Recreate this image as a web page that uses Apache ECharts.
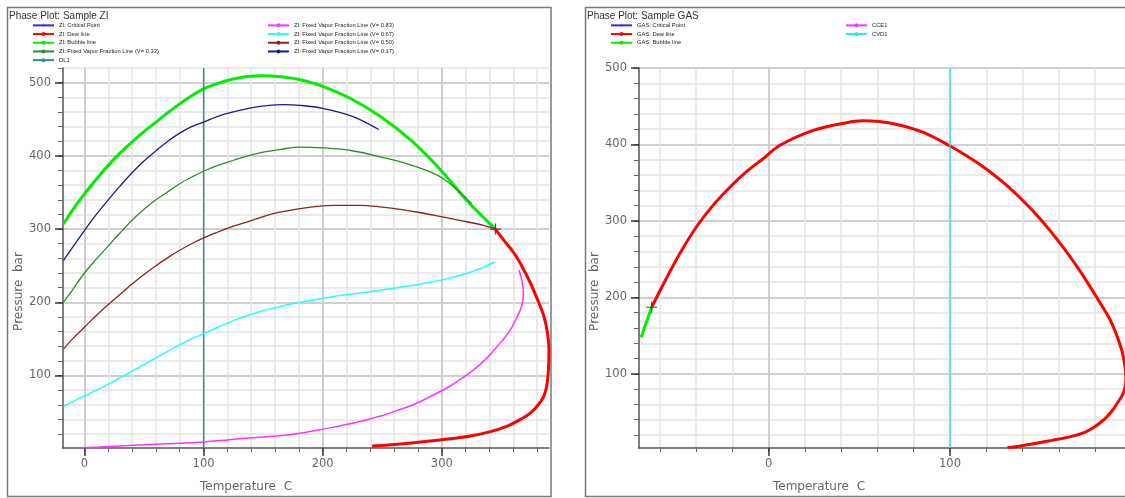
<!DOCTYPE html>
<html><head><meta charset="utf-8">
<script src="https://cdn.jsdelivr.net/npm/echarts@6/dist/echarts.min.js"></script>
<style>html,body{margin:0;padding:0;background:#fff}#c{width:1125px;height:498px}</style>
</head><body><div id="c"></div>
<script>
// ---------- Sample ZI (left panel) : [Temperature C, Pressure bar] ----------
const ziCritical = [[345, 300]];
const ziBubble = [[-17.6,307],[-10,326],[0,348],[10,368],[20,387],[30,404],[40,419],[50,433],[60,446],[70,459],[80,471],[90,482],[100,491.5],[112,499],[125,505],[137,508.5],[150,509.5],[165,508],[181,504],[200,495],[225,477],[250,452],[275,420],[300,379],[321,339],[345,300]];
const ziDew = [[345,300],[352,285],[360.7,267],[367,250],[374.5,226],[380,205],[385.7,181],[388.5,160],[390,135],[389.4,104],[388,85],[385.7,72],[381,60],[374.5,49],[365,39],[355,31],[340,23],[324,17.4],[307,13.5],[290,10.6],[270,7],[255,5],[241.5,3.8]];
const ziV017 = [[-17.6,257],[-10,275],[0,298],[10,320],[20,340],[30,359],[40,377],[50,393],[60,407],[70,420],[80,431],[90,440],[100,446],[112,454],[125,460],[140,465.5],[155,469],[167,470],[181,469],[200,465],[225,454],[247,436]];
const ziV033 = [[-17.6,200],[-10,217],[0,240],[10,259],[20,277],[30,295],[40,312],[50,327],[60,340],[70,351],[80,362],[90,371],[100,379],[112,387],[125,394],[137,400],[150,405],[165,409],[181,412],[200,411],[225,407],[250,398],[275,387],[300,370],[325,335]];
const ziV050 = [[-17.6,136],[-10,150],[0,166],[10,182],[20,197],[30,211],[40,225],[50,238],[60,250],[70,261],[80,271],[90,280],[100,288],[112,296],[125,304],[137,310],[150,317],[164,323],[181,328],[195,331],[209,332.5],[232,332.5],[250,330],[265,327],[280,323],[293,319],[310,313.5],[321,310],[335,305],[345,300]];
const ziV067 = [[-17.6,58],[-10,64],[0,72],[10,80],[20,88],[30,97],[40,106],[50,115],[60,124],[70,133],[80,142],[90,150],[100,157],[112,166],[125,175],[137,182],[150,188.5],[164,194],[181,200],[206,207],[230,212.5],[248,216.5],[265,220.5],[282,225],[304,232],[324,241],[335,248],[344,255]];
const ziV083 = [[-3.6,1.4],[10,2],[20,3],[40,4.8],[60,6],[80,7.5],[100,9.3],[120,12],[140,15],[164,17.6],[181,21],[192.5,24.5],[206,28.5],[220.5,33.3],[235,38.5],[248.5,44.6],[262,52],[276.6,60.5],[290,71],[304.6,83.3],[316,95],[327,108],[336,121],[344,135],[351,148],[357.7,162.6],[362,176],[366,190],[368,202],[368.5,212.5],[367.5,228],[364.8,244]];
const ziDL1 = [[100,1],[100,520]];

// ---------- Sample GAS (right panel) ----------
const gasCritical = [[-64.5,187]];
const gasBubble = [[-70.3,148],[-67.5,167],[-64.5,187]];
const gasDew = [[-64.5,187],[-56.6,224],[-48.9,257.8],[-39.6,293],[-30.8,320],[-21.4,344],[-12.1,364.7],[-3.3,381],[6,398.6],[24.2,418],[42.9,428.5],[51.6,431],[61,430],[72,425.5],[85,416],[100,398],[110,384],[120,368],[130,349],[140,327],[150,302],[160,273],[171,237],[182.6,193.5],[188,172],[192,150],[194.8,130],[196.5,110],[197,95],[196.5,82],[195,72],[192.9,64],[189.5,52],[185.5,41.3],[180,31],[174.6,23.9],[166,17.5],[156.2,13],[146,8.5],[137.9,5.4],[131.6,3.5]];
const gasCCE1 = [];
const gasCVD1 = [[100,3],[100,500]];

// ---------- ticks ----------
const ziXMinorTicks = [0,20,40,60,80,100,120,140,160,180,200,220,240,260,280,300,320,340,360,380];
const ziXMajorTicks = [0,100,200,300];
const ziYMinorTicks = [20,40,60,80,100,120,140,160,180,200,220,240,260,280,300,320,340,360,380,400,420,440,460,480,500,520];
const ziYMajorTicks = [100,200,300,400,500];
const gasXMinorTicks = [-60,-40,-20,0,20,40,60,80,100,120,140,160,180];
const gasXMajorTicks = [0,100];
const gasYMinorTicks = [20,40,60,80,100,120,140,160,180,200,220,240,260,280,300,320,340,360,380,400,420,440,460,480,500];
const gasYMajorTicks = [100,200,300,400,500];

const labelFont = {fontFamily:'DejaVu Sans', fontSize:11.5, color:'#666'};
const minorSplit = {show:true, lineStyle:{color:'#e3e3e3', width:1.5}};
const majorSplit = {show:true, lineStyle:{color:'#c6c6c6', width:1.5}};

function xAxes(grid, min, max, minor, major, namePad) {
  return [
    {type:'value', gridIndex:grid, min:min, max:max, position:'bottom',
     axisLine:{show:true, onZero:false, lineStyle:{color:'#555', width:1.5}},
     axisTick:{show:true, customValues:minor, length:4, lineStyle:{color:'#666', width:1}},
     axisLabel:{show:false}, splitLine:minorSplit},
    {type:'value', gridIndex:grid, min:min, max:max, position:'bottom',
     axisLine:{show:false, onZero:false},
     axisTick:{show:true, customValues:major, length:8, lineStyle:{color:'#333', width:1.5}},
     axisLabel:Object.assign({customValues:major, margin:10}, labelFont),
     splitLine:majorSplit,
     name:'Temperature  C', nameLocation:'middle', nameGap:33,
     nameTextStyle:{fontFamily:'DejaVu Sans', fontSize:12, color:'#666', padding:[0,namePad,0,0]}}
  ];
}
function yAxes(grid, min, max, minor, major, namePad) {
  return [
    {type:'value', gridIndex:grid, min:min, max:max, position:'left',
     axisLine:{show:true, onZero:false, lineStyle:{color:'#555', width:1.5}},
     axisTick:{show:true, customValues:minor, length:5, lineStyle:{color:'#666', width:1}},
     axisLabel:{show:false}, splitLine:minorSplit},
    {type:'value', gridIndex:grid, min:min, max:max, position:'left',
     axisLine:{show:false, onZero:false},
     axisTick:{show:true, customValues:major, length:8, lineStyle:{color:'#333', width:1.5}},
     axisLabel:Object.assign({customValues:major, margin:12}, labelFont),
     splitLine:majorSplit,
     name:'Pressure  bar', nameLocation:'middle', nameGap:38,
     nameTextStyle:{fontFamily:'DejaVu Sans', fontSize:12, color:'#666', padding:[0,namePad,0,0]}}
  ];
}

function curve(name, data, color, width, xi, yi, extra) {
  return Object.assign({name:name, type:'line', data:data, xAxisIndex:xi, yAxisIndex:yi,
    symbol:'none', smooth:0.35, color:color, lineStyle:{color:color, width:width}, z:3}, extra||{});
}
const crossSym = 'path://M4.5,0h1v4.5h4.5v1h-4.5v4.5h-1v-4.5h-4.5v-1h4.5z';
function critical(name, data, xi, yi) {
  return {name:name, type:'line', data:data, xAxisIndex:xi, yAxisIndex:yi,
    symbol:crossSym, symbolSize:11, showSymbol:true, color:'#2a2aee',
    itemStyle:{color:'#444'}, lineStyle:{color:'#2a2aee', width:1.2}, z:6};
}

const legendBase = {orient:'vertical', padding:0, itemGap:0, itemWidth:21, itemHeight:5,
  textStyle:{fontSize:5.8, lineHeight:8.7, color:'#222', fontFamily:'Liberation Sans'}};
function legend(left, names) {
  return Object.assign({}, legendBase, {left:left, top:21, data:names.map(n => {
    if (/Critical Point/.test(n)) return {name:n, itemStyle:{color:'#2a2aee'}, lineStyle:{color:'#2a2aee'}};
    return {name:n};
  })});
}

const option = {
  animation:false,
  backgroundColor:'#fff',
  title:[
    {text:'Phase Plot: Sample ZI', left:9, top:11, padding:0, textStyle:{fontSize:10, fontWeight:'normal', color:'#333', fontFamily:'Liberation Sans'}},
    {text:'Phase Plot: Sample GAS', left:587, top:11, padding:0, textStyle:{fontSize:10, fontWeight:'normal', color:'#333', fontFamily:'Liberation Sans'}}
  ],
  legend:[
    legend(32, ['ZI: Critical Point','ZI: Dew line','ZI: Bubble line','ZI: Fixed Vapor Fraction Line (V= 0.33)','DL1']),
    legend(267, ['ZI: Fixed Vapor Fraction Line (V= 0.83)','ZI: Fixed Vapor Fraction Line (V= 0.67)','ZI: Fixed Vapor Fraction Line (V= 0.50)','ZI: Fixed Vapor Fraction Line (V= 0.17)']),
    legend(610, ['GAS: Critical Point','GAS: Dew line','GAS: Bubble line']),
    legend(845, ['CCE1','CVD1'])
  ],
  grid:[
    {left:63, top:68, width:486, height:381},
    {left:639, top:68, width:488, height:381}
  ],
  xAxis:[].concat(
    xAxes(0, -18, 390, ziXMinorTicks, ziXMajorTicks, 120),
    xAxes(1, -71.5, 196.5, gasXMinorTicks, gasXMajorTicks, 126)
  ),
  yAxis:[].concat(
    yAxes(0, 1, 520, ziYMinorTicks, ziYMajorTicks, 67),
    yAxes(1, 3, 500, gasYMinorTicks, gasYMajorTicks, 67)
  ),
  graphic:[
    {type:'rect', silent:true, shape:{x:7.5, y:7.5, width:543.5, height:489}, style:{fill:'none', stroke:'#7a7a7a', lineWidth:1.5}},
    {type:'rect', silent:true, shape:{x:585.5, y:7.5, width:545, height:489}, style:{fill:'none', stroke:'#7a7a7a', lineWidth:1.5}}
  ],
  series:[
    critical('ZI: Critical Point', ziCritical, 0, 0),
    curve('ZI: Dew line', ziDew, '#ff0000', 3, 0, 0),
    curve('ZI: Bubble line', ziBubble, '#00ee00', 3, 0, 0),
    curve('ZI: Fixed Vapor Fraction Line (V= 0.33)', ziV033, '#2e8b2e', 1.3, 0, 0),
    curve('DL1', ziDL1, '#2f8f8f', 1.3, 0, 0, {smooth:false}),
    curve('ZI: Fixed Vapor Fraction Line (V= 0.83)', ziV083, '#ff33ff', 1.5, 0, 0),
    curve('ZI: Fixed Vapor Fraction Line (V= 0.67)', ziV067, '#22ffff', 1.5, 0, 0),
    curve('ZI: Fixed Vapor Fraction Line (V= 0.50)', ziV050, '#8b2222', 1.3, 0, 0),
    curve('ZI: Fixed Vapor Fraction Line (V= 0.17)', ziV017, '#1c1c8c', 1.3, 0, 0),
    critical('GAS: Critical Point', gasCritical, 2, 2),
    curve('GAS: Dew line', gasDew, '#ff0000', 3, 2, 2),
    curve('GAS: Bubble line', gasBubble, '#00ee00', 3, 2, 2),
    curve('CCE1', gasCCE1, '#ff33ff', 1.3, 2, 2),
    curve('CVD1', gasCVD1, '#22eeee', 1.2, 2, 2, {smooth:false})
  ]
};
const chart = echarts.init(document.getElementById('c'));
chart.setOption(option);
</script></body></html>
